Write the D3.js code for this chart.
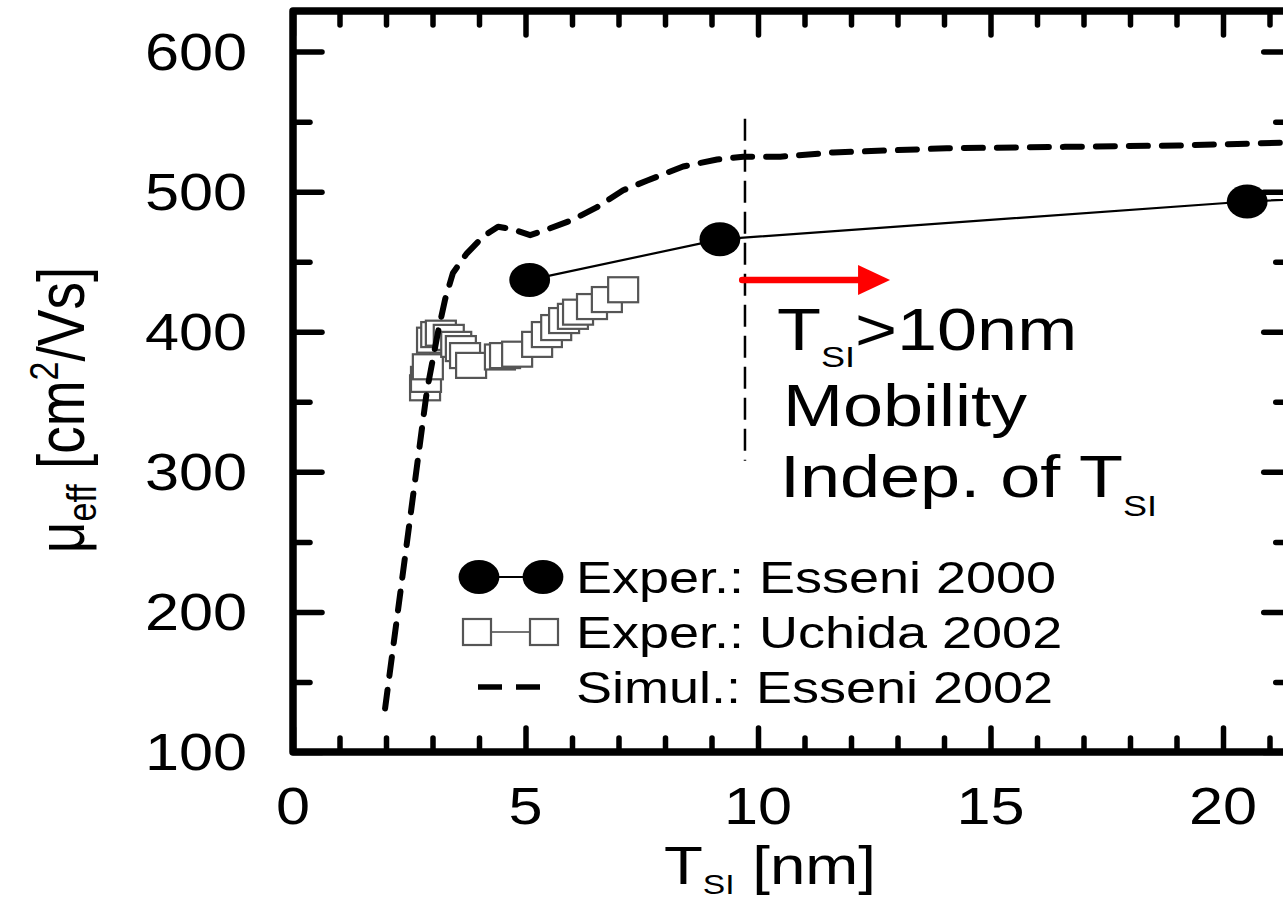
<!DOCTYPE html>
<html>
<head>
<meta charset="utf-8">
<script src="https://cdn.jsdelivr.net/npm/d3@7/dist/d3.min.js"></script>
<style>
  html, body { margin: 0; padding: 0; background: #ffffff; }
  svg { display: block; }
  text { font-family: "Liberation Sans", Arial, Helvetica, sans-serif; fill: #000; }
</style>
</head>
<body>
<svg id="chart" width="1283" height="900"></svg>
<script>
// ---- data ----
// Exper.: Esseni 2000 (filled circles), T_SI [nm] vs mobility [cm^2/Vs]
const essT  = [5.09, 9.18, 20.52, 25.0];
const essMu = [437, 466, 493, 500];

// Exper.: Uchida 2002 (open squares)
const uchT  = [2.84, 2.86, 2.90, 2.99, 3.08, 3.18, 3.35, 3.51, 3.61, 3.70, 3.83,
               4.45, 4.56, 4.82, 5.25, 5.46, 5.66, 5.83, 6.02, 6.13, 6.43, 6.75, 7.10];
const uchMu = [360, 366, 375, 394, 398, 399, 396, 391, 388, 383, 376,
               382, 383, 384, 391, 398, 403, 408, 411, 414, 418, 423, 430];

// Simul.: Esseni 2002 (dashed)
const simT  = [1.98, 2.88, 3.12, 3.27, 3.44, 3.74, 4.09, 4.41, 4.74, 5.10, 5.46, 6.02, 6.54,
               7.10, 7.62, 8.39, 9.12, 9.68, 10.48, 11.62, 14.06, 16.60, 19.04, 21.28, 21.5];
const simMu = [131, 358, 400, 423, 442, 456, 468, 475, 473, 469, 473, 480, 489,
               501, 508, 518, 523, 525, 525, 528, 531, 532, 533, 535, 535];

// axis ticks
const xMajor = [0, 5, 10, 15, 20];
const xMinor = [1, 2, 3, 4, 6, 7, 8, 9, 11, 12, 13, 14, 16, 17, 18, 19, 21];
const yMajor = [100, 200, 300, 400, 500, 600];
const yMinor = [150, 250, 350, 450, 550];

// annotation: threshold line and arrow
const threshT = 9.72;
const threshMu = [308, 552];
const arrowT = [9.66, 12.84];
const arrowMu = 437;

const legendItems = ["Exper.: Esseni 2000", "Exper.: Uchida 2002", "Simul.: Esseni 2002"];

// ---- layout ----
const SX = 1.2;              // horizontal stretch of glyphs and markers
const X_MAX = 21.5, Y_MIN = 100, Y_MAX = 629;
const svg = d3.select("#chart");
const x = d3.scaleLinear().domain([0, X_MAX]).range([293, 1292.75]);
const y = d3.scaleLinear().domain([Y_MIN, Y_MAX]).range([752, 11]);

svg.append("rect").attr("width", 1283).attr("height", 900).attr("fill", "#fff");

svg.append("clipPath").attr("id", "plot")
  .append("rect")
  .attr("x", x(0)).attr("y", y(Y_MAX))
  .attr("width", x(X_MAX) - x(0)).attr("height", y(Y_MIN) - y(Y_MAX));

// stretched text helper
function label(g, px, py, parts, size, anchor) {
  const t = g.append("text")
    .attr("transform", `translate(${px},${py}) scale(${SX},1)`)
    .attr("text-anchor", anchor || "start")
    .style("font-size", size + "px");
  parts.forEach(p => {
    const ts = t.append("tspan").text(p.t);
    if (p.sub) ts.style("font-size", p.sub + "px").attr("dy", p.dy);
    if (p.back) ts.attr("dy", p.back);
  });
  return t;
}

// ---- ticks (inward, on all four sides) ----
function ticks(axisFn, scale, values, size, transform) {
  const g = svg.append("g").attr("transform", transform)
    .call(axisFn(scale).tickValues(values).tickSize(-size).tickFormat(""));
  g.select(".domain").remove();
  g.selectAll("line").attr("stroke", "#000").attr("stroke-width", 5.5).attr("stroke-linecap", "round");
}
ticks(d3.axisBottom, x, xMajor, 24, `translate(0,${y(Y_MIN)})`);
ticks(d3.axisBottom, x, xMinor, 14, `translate(0,${y(Y_MIN)})`);
ticks(d3.axisTop, x, xMajor, 24, `translate(0,${y(Y_MAX)})`);
ticks(d3.axisTop, x, xMinor, 14, `translate(0,${y(Y_MAX)})`);
ticks(d3.axisLeft, y, yMajor, 29, `translate(${x(0)},0)`);
ticks(d3.axisLeft, y, yMinor, 17, `translate(${x(0)},0)`);
ticks(d3.axisRight, y, yMajor, 29, `translate(${x(X_MAX)},0)`);
ticks(d3.axisRight, y, yMinor, 17, `translate(${x(X_MAX)},0)`);

// frame
svg.append("rect")
  .attr("x", x(0)).attr("y", y(Y_MAX))
  .attr("width", x(X_MAX) - x(0)).attr("height", y(Y_MIN) - y(Y_MAX))
  .attr("fill", "none").attr("stroke", "#000").attr("stroke-width", 7.5)
  .attr("stroke-linejoin", "round");

// tick labels
const lab = svg.append("g");
xMajor.forEach(v => label(lab, x(v), 824, [{t: String(v)}], 51, "middle"));
yMajor.forEach(v => label(lab, 247, y(v) + 18, [{t: String(v)}], 51, "end"));

// axis titles
label(lab, 664, 884, [{t: "T"}, {t: "SI", sub: 28, dy: 10}, {t: " [nm]", back: -10}], 53);
svg.append("g")
  .attr("transform", `translate(84,410) scale(${SX},1) rotate(-90)`)
  .append("text").attr("text-anchor", "middle").style("font-size", "55px")
  .call(t => {
    t.append("tspan").text("\u03bc");
    t.append("tspan").text("eff").style("font-size", "34px").attr("dy", 10);
    t.append("tspan").text(" [cm").attr("dy", -10);
    t.append("tspan").text("2").style("font-size", "34px").attr("dy", -22);
    t.append("tspan").text("/Vs]").attr("dy", 22);
  });

// ---- data marks ----
const plot = svg.append("g").attr("clip-path", "url(#plot)");

// Uchida squares with connecting line
const uch = uchT.map((t, i) => [t, uchMu[i]]);
plot.append("path").datum(uch)
  .attr("d", d3.line().x(d => x(d[0])).y(d => y(d[1])))
  .attr("fill", "none").attr("stroke", "#444").attr("stroke-width", 1.6);
plot.selectAll(".sq").data(uch).join("rect").attr("class", "sq")
  .attr("x", d => x(d[0]) - 15).attr("y", d => y(d[1]) - 12.5)
  .attr("width", 30).attr("height", 25)
  .attr("fill", "#fff").attr("stroke", "#555").attr("stroke-width", 2.2);

// Esseni 2000 circles with connecting line
const ess = essT.map((t, i) => [t, essMu[i]]);
plot.append("path").datum(ess)
  .attr("d", d3.line().x(d => x(d[0])).y(d => y(d[1])))
  .attr("fill", "none").attr("stroke", "#000").attr("stroke-width", 2.2);
plot.selectAll(".ci").data(ess).join("ellipse").attr("class", "ci")
  .attr("cx", d => x(d[0])).attr("cy", d => y(d[1]))
  .attr("rx", 17 * SX).attr("ry", 17).attr("fill", "#000");

// simulation curve
const sim = simT.map((t, i) => [t, simMu[i]]);
plot.append("path").datum(sim)
  .attr("d", d3.line().x(d => x(d[0])).y(d => y(d[1])))
  .attr("fill", "none").attr("stroke", "#000").attr("stroke-width", 6)
  .attr("stroke-dasharray", "19,14").attr("stroke-linecap", "round")
  .attr("stroke-linejoin", "round");

// threshold line near T_SI = 10 nm
svg.append("line")
  .attr("x1", x(threshT)).attr("x2", x(threshT))
  .attr("y1", y(threshMu[1])).attr("y2", y(threshMu[0]))
  .attr("stroke", "#000").attr("stroke-width", 2.5).attr("stroke-dasharray", "22,9");

// red arrow
svg.append("line")
  .attr("x1", x(arrowT[0])).attr("x2", x(arrowT[1]) - 28)
  .attr("y1", y(arrowMu)).attr("y2", y(arrowMu))
  .attr("stroke", "#ff0000").attr("stroke-width", 6.5).attr("stroke-linecap", "round");
svg.append("path")
  .attr("d", `M${x(arrowT[1])},${y(arrowMu)} L${x(arrowT[1]) - 32},${y(arrowMu) - 15} L${x(arrowT[1]) - 32},${y(arrowMu) + 15} Z`)
  .attr("fill", "#ff0000");

// annotation text
const ann = svg.append("g");
label(ann, 777, 350, [{t: "T"}, {t: "SI", sub: 30, dy: 17}, {t: ">10nm", back: -17}], 60);
label(ann, 783, 426, [{t: "Mobility"}], 60);
label(ann, 780, 497, [{t: "Indep. of T"}, {t: "SI", sub: 30, dy: 19}], 60);

// ---- legend ----
const leg = svg.append("g");
const rows = [577, 632, 687];
// row 1: circles
leg.append("line").attr("x1", 479).attr("x2", 543).attr("y1", rows[0]).attr("y2", rows[0])
  .attr("stroke", "#000").attr("stroke-width", 2.2);
[479, 543].forEach(cx => leg.append("ellipse").attr("cx", cx).attr("cy", rows[0])
  .attr("rx", 17 * SX).attr("ry", 17).attr("fill", "#000"));
// row 2: squares
leg.append("line").attr("x1", 477).attr("x2", 544).attr("y1", rows[1]).attr("y2", rows[1])
  .attr("stroke", "#444").attr("stroke-width", 1.6);
[477, 544].forEach(cx => leg.append("rect").attr("x", cx - 14).attr("y", rows[1] - 13)
  .attr("width", 28).attr("height", 26)
  .attr("fill", "#fff").attr("stroke", "#555").attr("stroke-width", 2.2));
// row 3: dashes
leg.append("line").attr("x1", 478).attr("x2", 540).attr("y1", rows[2]).attr("y2", rows[2])
  .attr("stroke", "#000").attr("stroke-width", 5.5).attr("stroke-dasharray", "24,14");

legendItems.forEach((s, i) => label(leg, 576, rows[i] + 16, [{t: s}], 45));
</script>
</body>
</html>
